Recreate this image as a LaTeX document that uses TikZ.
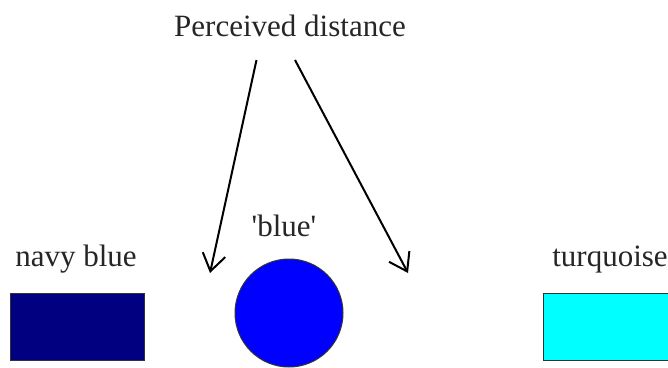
\documentclass[tikz,border=0pt]{standalone}
\usepackage{fontspec}
\setmainfont{Liberation Serif}
\usetikzlibrary{arrows.meta}
\definecolor{navyc}{HTML}{000080}
\definecolor{bluec}{HTML}{0000FF}
\definecolor{turqc}{HTML}{00FFFF}
\tikzset{
  lbl/.style={anchor=base, inner sep=0pt, font=\fontsize{31}{36}\selectfont, text=black!85},
  swatch/.style={draw=black!80, line width=1pt, inner sep=0pt, minimum width=134pt, minimum height=67pt},
  arr/.style={line width=2pt, -{Straight Barb[length=17pt,width=23pt,line width=2pt]}}
}
\begin{document}
\begin{tikzpicture}[x=1pt,y=-1pt]
\clip (0,0) rectangle (668,367);
\fill[white] (0,0) rectangle (668,367);
\node[lbl] (pd) at (290,36) {Perceived distance};
\node[lbl] (nb) at (76,266) {navy blue};
\node[lbl] (bl) at (284,236) {\textquotesingle blue\textquotesingle};
\node[lbl] (tq) at (610,266) {turquoise};
\node[swatch, fill=navyc] (navy) at (77,326.5) {};
\node[swatch, fill=turqc] (turq) at (610,326.5) {};
\node[draw=black!80, line width=1pt, fill=bluec, circle, minimum size=108pt, inner sep=0pt] (blue) at (289,313) {};
\coordinate (s1) at (256.5,60);
\coordinate (e1) at (210,273);
\coordinate (s2) at (295,60);
\coordinate (e2) at (408,273);
\draw[arr] (s1) -- (e1);
\draw[arr] (s2) -- (e2);
\end{tikzpicture}
\end{document}
